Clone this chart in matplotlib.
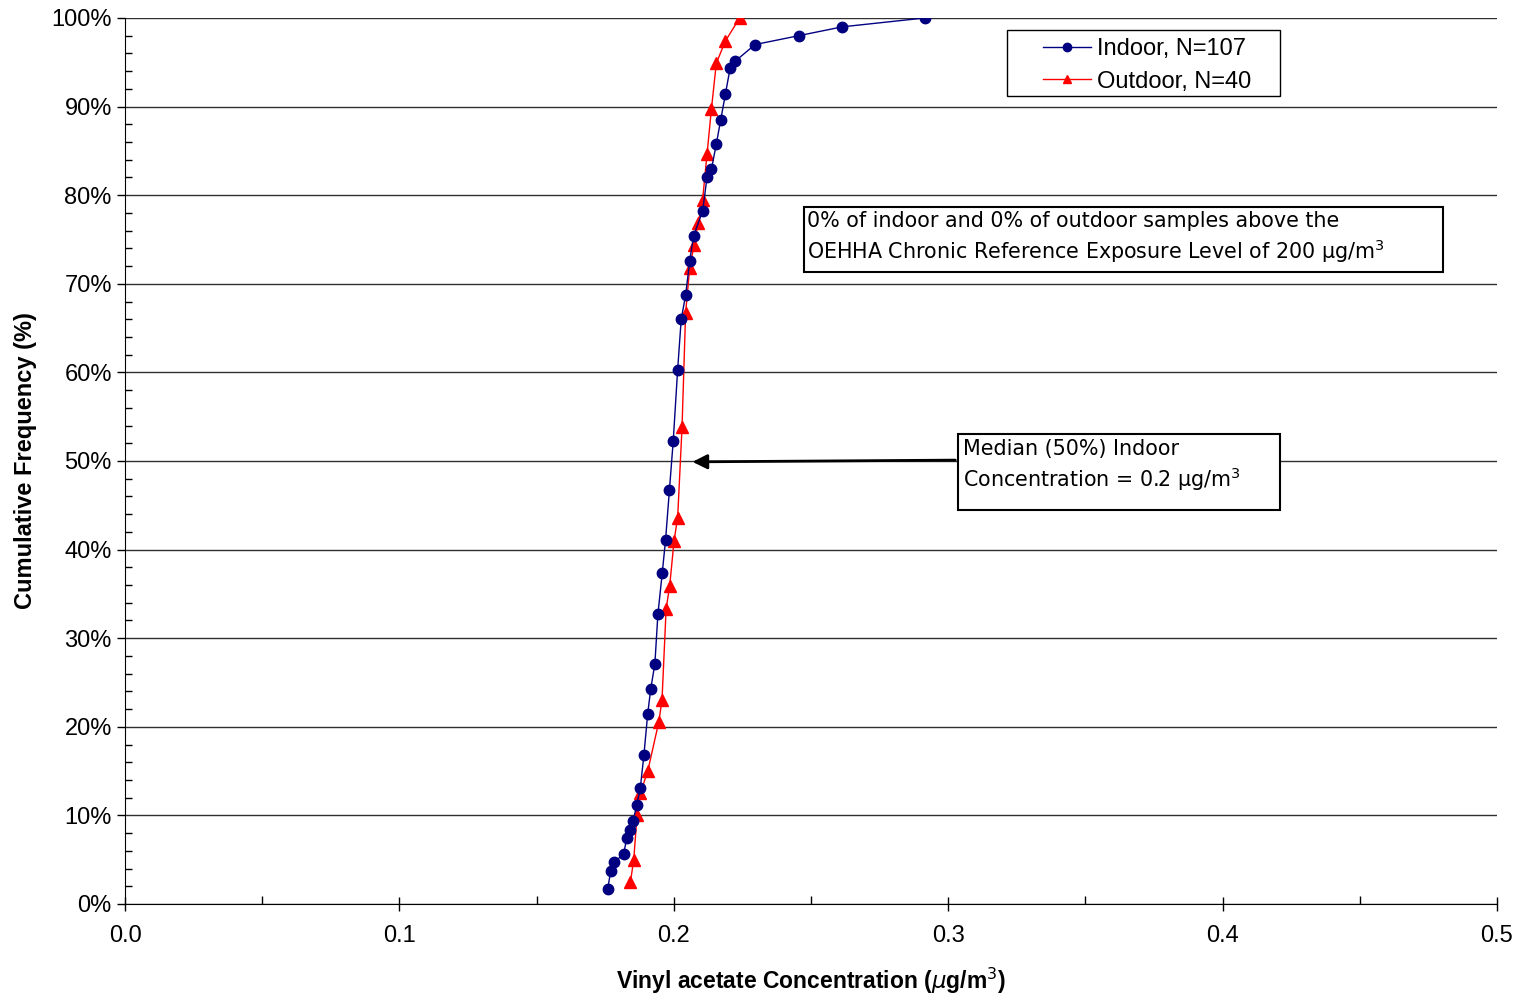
import matplotlib
matplotlib.use("Agg")
import matplotlib.pyplot as plt
from matplotlib.patches import Rectangle
from matplotlib.ticker import MultipleLocator, FuncFormatter

# cumulative distributions
indoor_conc = [0.1759, 0.1770, 0.1781, 0.1817, 0.1829, 0.1840, 0.1852, 0.1865,
               0.1878, 0.1891, 0.1905, 0.1916, 0.1931, 0.1942, 0.1958, 0.1970,
               0.1984, 0.1998, 0.2014, 0.2027, 0.2043, 0.2058, 0.2072, 0.2105,
               0.2121, 0.2137, 0.2155, 0.2171, 0.2188, 0.2205, 0.2223, 0.2296,
               0.2455, 0.2614, 0.2914]
indoor_freq = [1.7, 3.7, 4.7, 5.6, 7.5, 8.4, 9.4, 11.2,
               13.1, 16.8, 21.5, 24.3, 27.1, 32.7, 37.4, 41.1,
               46.7, 52.3, 60.3, 66.0, 68.7, 72.6, 75.4, 78.2,
               82.0, 82.9, 85.8, 88.5, 91.4, 94.3, 95.1, 97.0,
               98.0, 99.0, 100.0]
outdoor_conc = [0.1842, 0.1854, 0.1866, 0.1878, 0.1905, 0.1945, 0.1957, 0.1972,
                0.1985, 0.2001, 0.2014, 0.2030, 0.2043, 0.2058, 0.2074, 0.2089,
                0.2105, 0.2121, 0.2137, 0.2155, 0.2188, 0.2240]
outdoor_freq = [2.5, 5.0, 10.0, 12.5, 15.0, 20.5, 23.0, 33.3,
                35.9, 41.0, 43.6, 53.8, 66.7, 71.8, 74.4, 76.9,
                79.5, 84.6, 89.7, 94.9, 97.4, 100.0]

labels = ["Indoor, N=107", "Outdoor, N=40"]
median_indoor = 0.2

FONT = ["Liberation Sans", "DejaVu Sans"]
BOXFONT = ["DejaVu Sans"]

fig = plt.figure(figsize=(15.21, 9.99), dpi=100)
ax = fig.add_axes([0.0822, 0.0951, 0.9020, 0.8869])

ax.plot(indoor_conc, indoor_freq, color="#000080", lw=1, marker="o",
        markersize=7.5, label=labels[0], zorder=4)
ax.plot(outdoor_conc, outdoor_freq, color="#ff0000", lw=1, marker="^",
        markersize=8, label=labels[1], zorder=3)

ax.set_xlim(0, 0.5)
ax.set_ylim(0, 100)
ax.xaxis.set_major_locator(MultipleLocator(0.1))
ax.xaxis.set_minor_locator(MultipleLocator(0.05))
ax.yaxis.set_major_locator(MultipleLocator(10))
ax.yaxis.set_minor_locator(MultipleLocator(2))
ax.xaxis.set_major_formatter(FuncFormatter(lambda v, p: f"{v:.1f}"))
ax.yaxis.set_major_formatter(FuncFormatter(lambda v, p: f"{v:.0f}%"))
ax.tick_params(axis="x", which="major", direction="inout", length=10, width=1)
ax.tick_params(axis="x", which="minor", direction="in", length=6, width=1)
ax.tick_params(axis="y", which="major", direction="out", length=6, width=1)
ax.tick_params(axis="y", which="minor", direction="in", length=5, width=1)
for lab in ax.get_xticklabels() + ax.get_yticklabels():
    lab.set_family(FONT)
    lab.set_fontsize(17)
ax.tick_params(axis="x", pad=10)

ax.grid(axis="y", which="major", color="#303030", lw=1)
ax.set_axisbelow(True)
ax.spines["top"].set_visible(False)
ax.spines["right"].set_visible(False)

ax.set_xlabel(r"Vinyl acetate Concentration ($\mu$g/m$^3$)", family=FONT,
              fontsize=16.5, fontweight="bold", labelpad=14)
ax.set_ylabel("Cumulative Frequency (%)", family=FONT, fontsize=17,
              fontweight="bold", labelpad=10)

# legend: frameless, with its own wider box behind it
ax.add_patch(Rectangle((0.6429, 0.9120), 0.199, 0.0745, transform=ax.transAxes,
                       facecolor="white", edgecolor="black", lw=1, zorder=5))
leg = ax.legend(loc="upper left", bbox_to_anchor=(0.669, 0.9775),
                borderaxespad=0, frameon=False, borderpad=0,
                prop={"family": FONT, "size": 17},
                handlelength=2.05, handletextpad=0.25,
                labelspacing=0.45, markerscale=0.8)
leg.set_zorder(6)

# annotation boxes
ax.add_patch(Rectangle((0.2474, 71.33), 0.2329, 7.34, fill=False,
                       edgecolor="black", lw=1.5, zorder=5))
ax.text(0.2485, 77.1, "0% of indoor and 0% of outdoor samples above the",
        family=BOXFONT, fontsize=14.9, va="center", ha="left", zorder=6)
ax.text(0.2485, 73.7, r"OEHHA Chronic Reference Exposure Level of 200 µg/m$^3$",
        family=BOXFONT, fontsize=14.9, va="center", ha="left", zorder=6)

ax.add_patch(Rectangle((0.3036, 44.47), 0.1173, 8.58, facecolor="white",
                       edgecolor="black", lw=1.5, zorder=5))
ax.text(0.3054, 51.3, "Median (50%) Indoor",
        family=BOXFONT, fontsize=14.9, va="center", ha="left", zorder=6)
ax.text(0.3054, 47.9, r"Concentration = %.1f µg/m$^3$" % median_indoor,
        family=BOXFONT, fontsize=14.9, va="center", ha="left", zorder=6)
ax.annotate("", xy=(0.2058, 49.9), xytext=(0.3036, 50.1),
            arrowprops=dict(arrowstyle="-|>", color="black", lw=2,
                            mutation_scale=22), zorder=6)

fig.savefig("out.png", dpi=100)
